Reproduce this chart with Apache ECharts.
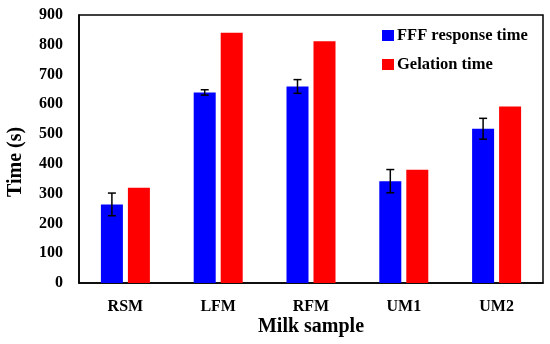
<!DOCTYPE html>
<html>
<head>
<meta charset="utf-8">
<script src="https://cdn.jsdelivr.net/npm/echarts@6/dist/echarts.min.js"></script>
<style>html,body{margin:0;padding:0;background:#fff;}#c{width:550px;height:344px;}</style>
</head>
<body>
<div id="c"></div>
<script>
const categories = ['RSM', 'LFM', 'RFM', 'UM1', 'UM2'];
const fffTime = [264, 640, 660, 342, 518];
const fffErr = [38, 9, 23, 39, 35];
const gelationTime = [320, 840, 812, 380, 593];
const yTicks = [0, 100, 200, 300, 400, 500, 600, 700, 800, 900];

const FONT = '"Liberation Serif", "DejaVu Serif", serif';
const chart = echarts.init(document.getElementById('c'), null, {renderer: 'canvas'});
const BAR_W = 22, GAP = 5;

chart.setOption({
  animation: false,
  backgroundColor: '#fff',
  grid: {left: 79, right: 7, top: 15, bottom: 61, show: true, borderColor: '#000', borderWidth: 1.5, backgroundColor: 'transparent'},
  legend: {
    orient: 'vertical', left: 377, top: 22, itemWidth: 12, itemHeight: 11, itemGap: 12,
    icon: 'rect',
    data: ['FFF response time', 'Gelation time'],
    textStyle: {fontFamily: FONT, fontWeight: 'bold', fontSize: 16.5, color: '#000', padding: [0,0,0,-2]}
  },
  xAxis: {
    type: 'category', data: categories,
    axisLine: {lineStyle: {color: '#000', width: 1.5}},
    axisTick: {show: false},
    axisLabel: {fontFamily: FONT, fontWeight: 'bold', fontSize: 16, color: '#000', margin: 16}
  },
  yAxis: {
    type: 'value', min: yTicks[0], max: yTicks[yTicks.length - 1], interval: 100,
    splitLine: {show: false},
    axisLine: {show: true, lineStyle: {color: '#000', width: 1.5}},
    axisTick: {show: false},
    axisLabel: {fontFamily: FONT, fontWeight: 'bold', fontSize: 16, color: '#000', margin: 16}
  },
  graphic: [
    {type: 'text', x: 311, y: 317, style: {text: 'Milk sample', font: 'bold 20px ' + FONT, fill: '#000', textAlign: 'center'}},
    {type: 'text', x: 6, y: 197, rotation: Math.PI / 2, style: {text: 'Time (s)', font: 'bold 20px ' + FONT, fill: '#000'}}
  ],
  series: [
    {name: 'FFF response time', type: 'bar', data: fffTime, barWidth: BAR_W, barGap: (GAP / BAR_W * 100) + '%', itemStyle: {color: '#0000ff'}},
    {name: 'Gelation time', type: 'bar', data: gelationTime, barWidth: BAR_W, itemStyle: {color: '#ff0000'}},
    {
      type: 'custom', name: 'err', z: 10,
      data: fffTime.map((v, i) => [i, v - fffErr[i], v + fffErr[i]]),
      renderItem: function (params, api) {
        const lo = api.coord([api.value(0), api.value(1)]);
        const hi = api.coord([api.value(0), api.value(2)]);
        const x = lo[0] - (BAR_W + GAP) / 2;
        const cap = 4;
        const st = {stroke: '#000', lineWidth: 1.5};
        return {type: 'group', children: [
          {type: 'line', shape: {x1: x, y1: lo[1], x2: x, y2: hi[1]}, style: st},
          {type: 'line', shape: {x1: x - cap, y1: lo[1], x2: x + cap, y2: lo[1]}, style: st},
          {type: 'line', shape: {x1: x - cap, y1: hi[1], x2: x + cap, y2: hi[1]}, style: st}
        ]};
      }
    }
  ]
});
</script>
</body>
</html>
